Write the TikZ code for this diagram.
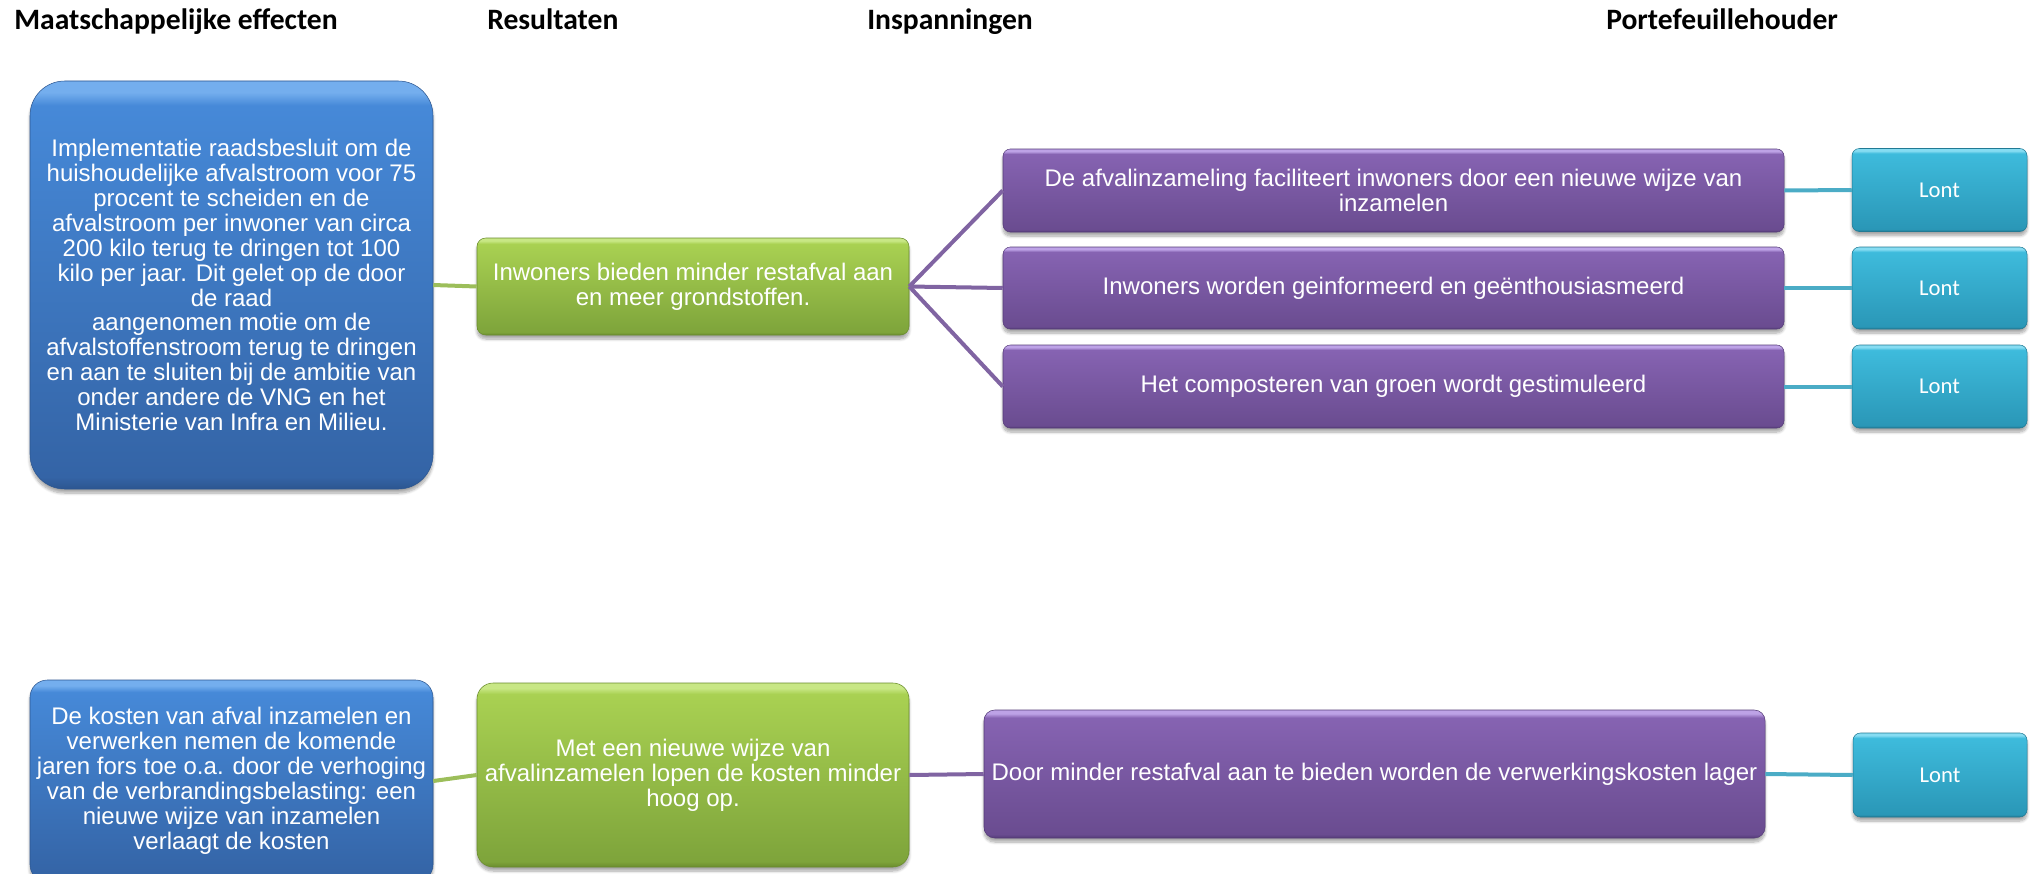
\documentclass[tikz,border=0pt]{standalone}
\usepackage{fontspec}
\setmainfont{Liberation Sans}
\newfontfamily\headfont{Carlito}
\usetikzlibrary{shadows.blur}

% box palette: dark bottom edge, body bottom, body top, top highlight
\definecolor{blueEdge}{HTML}{2C5690}
\definecolor{blueBot}{HTML}{3464A6}
\definecolor{blueTop}{HTML}{4689D8}
\definecolor{blueHi}{HTML}{74AEEE}
\definecolor{greenEdge}{HTML}{6A8C2E}
\definecolor{greenBot}{HTML}{7EA43B}
\definecolor{greenTop}{HTML}{A9D152}
\definecolor{greenHi}{HTML}{C8E785}
\definecolor{purpEdge}{HTML}{553C78}
\definecolor{purpBot}{HTML}{6A4C90}
\definecolor{purpTop}{HTML}{8663B2}
\definecolor{purpHi}{HTML}{BDA2E6}
\definecolor{cyanEdge}{HTML}{217A94}
\definecolor{cyanBot}{HTML}{2A97B7}
\definecolor{cyanTop}{HTML}{3EBBDC}
\definecolor{cyanHi}{HTML}{86DCF2}
% connector colours
\definecolor{lineGreen}{HTML}{9CBE5A}
\definecolor{linePurple}{HTML}{8064A2}
\definecolor{lineCyan}{HTML}{4BACC6}

\newcommand\boxshade[5]{%
  \pgfdeclareverticalshading{#1}{100bp}{color(0bp)=(#2); color(25bp)=(#2);
    color(26.5bp)=(#3); color(72bp)=(#4); color(73.6bp)=(#5); color(75bp)=(#5);
    color(100bp)=(#5)}}
\boxshade{blueshade}{blueEdge}{blueBot}{blueTop}{blueHi}
\boxshade{greenshade}{greenEdge}{greenBot}{greenTop}{greenHi}
\boxshade{purpshade}{purpEdge}{purpBot}{purpTop}{purpHi}
\boxshade{cyanshade}{cyanEdge}{cyanBot}{cyanTop}{cyanHi}

\def\pxu{0.75pt}

\tikzset{
  head/.style={anchor=base west, inner sep=0pt, font=\headfont\bfseries\fontsize{22.2}{25}\selectfont},
  box/.style={rectangle, inner sep=0pt, align=center, text=white,
    font=\fontsize{18}{18.7}\selectfont,
    blur shadow={shadow xshift=0pt, shadow yshift=-3pt, shadow blur steps=8, shadow opacity=35}},
  bluebox/.style={box, shading=blueshade, draw=blueEdge, line width=0.4pt},
  greenbox/.style={box, shading=greenshade, draw=greenEdge, line width=0.4pt},
  purpbox/.style={box, shading=purpshade, draw=purpEdge, line width=0.4pt},
  cyanbox/.style={box, shading=cyanshade, draw=cyanEdge, line width=0.4pt,
    font=\headfont\fontsize{17}{20}\selectfont},
  gline/.style={draw=lineGreen, line width=3pt},
  pline/.style={draw=linePurple, line width=3pt},
  cline/.style={draw=lineCyan, line width=3pt}
}

\begin{document}
\begin{tikzpicture}[x=0.75pt,y=-0.75pt]
\useasboundingbox (0,0) rectangle (2034,874);

% column headings
\node[head] (h1) at (14,30) {Maatschappelijke effecten};
\node[head] (h2) at (487,30) {Resultaten};
\node[head] (h3) at (867,30) {Inspanningen};
\node[head] (h4) at (1606,30) {Portefeuillehouder};

% first chain
\node[bluebox, rounded corners=26pt, minimum width=403*\pxu, minimum height=408*\pxu] (m1) at (231.5,285)
  {Implementatie raadsbesluit om de\\huishoudelijke afvalstroom voor 75\\procent te scheiden en de\\afvalstroom per inwoner van circa\\200 kilo terug te dringen tot 100\\kilo per jaar. Dit gelet op de door\\de raad\\aangenomen motie om de\\afvalstoffenstroom terug te dringen\\en aan te sluiten bij de ambitie van\\onder andere de VNG en het\\Ministerie van Infra en Milieu.};

\node[greenbox, rounded corners=6.5pt, minimum width=432*\pxu, minimum height=97*\pxu] (r1) at (693,286.5)
  {Inwoners bieden minder restafval aan\\en meer grondstoffen.};

\node[purpbox, rounded corners=5.5pt, minimum width=781*\pxu, minimum height=83*\pxu] (i1) at (1393.5,190.5)
  {De afvalinzameling faciliteert inwoners door een nieuwe wijze van\\inzamelen};
\node[purpbox, rounded corners=5.5pt, minimum width=781*\pxu, minimum height=82*\pxu] (i2) at (1393.5,288)
  {Inwoners worden geinformeerd en geënthousiasmeerd};
\node[purpbox, rounded corners=5.5pt, minimum width=781*\pxu, minimum height=83*\pxu] (i3) at (1393.5,386.5)
  {Het composteren van groen wordt gestimuleerd};

\node[cyanbox, rounded corners=5.5pt, minimum width=175*\pxu, minimum height=83*\pxu] (p1) at (1939.5,190) {Lont};
\node[cyanbox, rounded corners=5.5pt, minimum width=175*\pxu, minimum height=82*\pxu] (p2) at (1939.5,288) {Lont};
\node[cyanbox, rounded corners=5.5pt, minimum width=175*\pxu, minimum height=83*\pxu] (p3) at (1939.5,386.5) {Lont};

% second chain
\node[bluebox, rounded corners=13pt, minimum width=403*\pxu, minimum height=202*\pxu] (m2) at (231.5,781)
  {De kosten van afval inzamelen en\\verwerken nemen de komende\\jaren fors toe o.a. door de verhoging\\van de verbrandingsbelasting: een\\nieuwe wijze van inzamelen\\verlaagt de kosten};

\node[greenbox, rounded corners=12pt, minimum width=432*\pxu, minimum height=184*\pxu] (r2) at (693,775)
  {Met een nieuwe wijze van\\afvalinzamelen lopen de kosten minder\\hoog op.};

\node[purpbox, rounded corners=8pt, minimum width=781*\pxu, minimum height=128*\pxu] (i4) at (1374.5,774)
  {Door minder restafval aan te bieden worden de verwerkingskosten lager};

\node[cyanbox, rounded corners=5.5pt, minimum width=174*\pxu, minimum height=84*\pxu] (p4) at (1940,775) {Lont};

% connectors
\draw[gline] (m1.east) -- (r1.west);
\draw[pline] (r1.east) -- (i1.west);
\draw[pline] (r1.east) -- (i2.west);
\draw[pline] (r1.east) -- (i3.west);
\draw[cline] (i1.east) -- (p1.west);
\draw[cline] (i2.east) -- (p2.west);
\draw[cline] (i3.east) -- (p3.west);

\draw[gline] (m2.east) -- (r2.west);
\draw[pline] (r2.east) -- (i4.west);
\draw[cline] (i4.east) -- (p4.west);
\end{tikzpicture}
\end{document}
